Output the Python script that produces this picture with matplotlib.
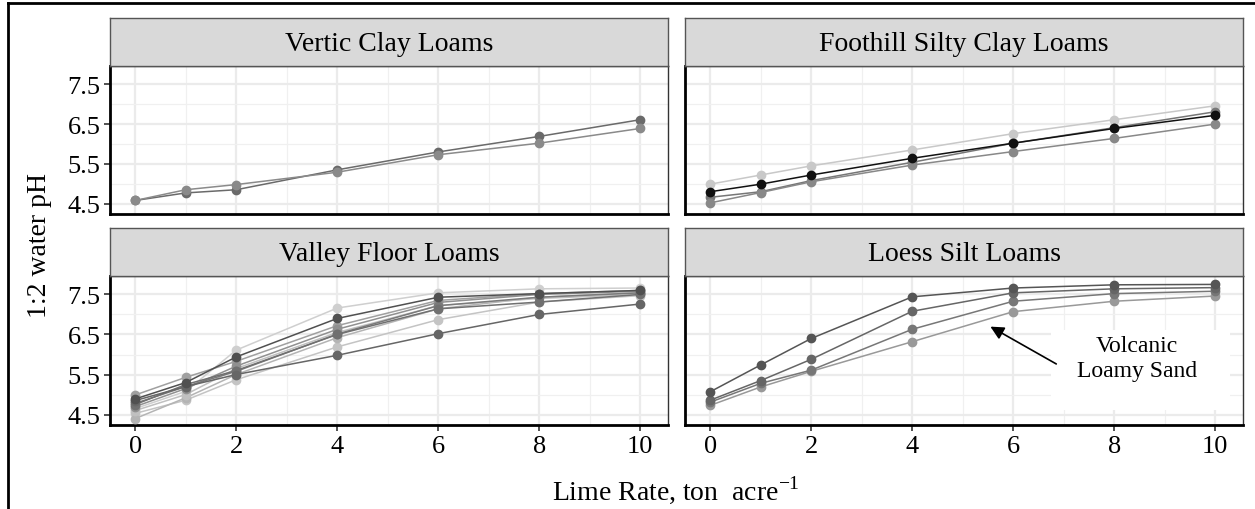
import matplotlib
matplotlib.use("Agg")
import matplotlib.pyplot as plt
from matplotlib.patches import Rectangle
from matplotlib.lines import Line2D

plt.rcParams['font.family'] = ['Liberation Serif', 'DejaVu Serif']
plt.rcParams['mathtext.fontset'] = 'custom'
plt.rcParams['mathtext.rm'] = 'Liberation Serif'

rates = [0, 1, 2, 4, 6, 8, 10]
x_ticks = [0, 2, 4, 6, 8, 10]
y_ticks = [4.5, 5.5, 6.5, 7.5]
panel_titles = ["Vertic Clay Loams", "Foothill Silty Clay Loams",
                "Valley Floor Loams", "Loess Silt Loams"]

vertic_ph = [
    [4.58, 4.77, 4.85, 5.35, 5.80, 6.19, 6.61],
    [4.58, 4.85, 4.98, 5.29, 5.73, 6.02, 6.39],
]
vertic_col = ["#6a6a6a", "#8a8a8a"]

foothill_ph = [
    [4.99, 5.22, 5.45, 5.85, 6.26, 6.61, 6.96],
    [4.66, 4.80, 5.08, 5.54, 6.02, 6.41, 6.81],
    [4.52, 4.78, 5.05, 5.47, 5.81, 6.14, 6.50],
    [4.80, 4.99, 5.22, 5.64, 6.02, 6.39, 6.72],
]
foothill_col = ["#c8c8c8", "#777777", "#888888", "#111111"]

valley_ph = [
    [4.65, 5.08, 6.11, 7.16, 7.54, 7.64, 7.66],
    [4.53, 4.86, 5.37, 6.19, 6.87, 7.31, 7.47],
    [4.40, 4.92, 5.50, 6.42, 7.14, 7.43, 7.54],
    [4.60, 5.00, 5.65, 6.55, 7.22, 7.40, 7.50],
    [4.99, 5.43, 5.83, 6.72, 7.35, 7.52, 7.60],
    [4.70, 5.15, 5.71, 6.63, 7.30, 7.50, 7.58],
    [4.78, 5.20, 5.58, 6.51, 7.22, 7.43, 7.54],
    [4.75, 5.25, 5.60, 6.50, 7.14, 7.31, 7.50],
    [4.85, 5.20, 5.50, 5.98, 6.52, 7.00, 7.26],
    [4.89, 5.30, 5.94, 6.90, 7.43, 7.52, 7.60],
]
valley_col = ["#cfcfcf", "#c4c4c4", "#b4b4b4", "#c0c0c0", "#a0a0a0",
              "#909090", "#7a7a7a", "#707070", "#666666", "#505050"]

loess_ph = [
    [4.73, 5.19, 5.58, 6.32, 7.07, 7.33, 7.46],
    [4.81, 5.28, 5.61, 6.63, 7.33, 7.52, 7.58],
    [4.86, 5.35, 5.88, 7.08, 7.54, 7.64, 7.67],
    [5.07, 5.74, 6.40, 7.44, 7.66, 7.74, 7.75],
]
loess_col = ["#999999", "#777777", "#666666", "#555555"]

panel_data = [(vertic_ph, vertic_col), (foothill_ph, foothill_col),
              (valley_ph, valley_col), (loess_ph, loess_col)]

W, H = 1255, 510
fig = plt.figure(figsize=(W / 100, H / 100), dpi=100)

def fx(px):
    return px / W

def fy(py):
    return 1 - py / H

cols = [(110, 668), (685, 1243)]
rows = [((19, 67), (67, 215)), ((229, 277), (277, 426))]

FS = 19
for i, (title, (series, colors)) in enumerate(zip(panel_titles, panel_data)):
    r, c = divmod(i, 2)
    x0, x1 = cols[c]
    (s0, s1), (a0, a1) = rows[r]
    ax = fig.add_axes([fx(x0), fy(a1), fx(x1) - fx(x0), fy(a0) - fy(a1)])
    ax.set_xlim(-0.5, 10.55)
    ax.set_ylim(4.24, 7.96)
    ax.set_xticks(x_ticks)
    ax.set_yticks(y_ticks)
    ax.set_xticks([1, 3, 5, 7, 9], minor=True)
    ax.set_yticks([5.0, 6.0, 7.0], minor=True)
    ax.grid(which='major', color='#ebebeb', lw=1.6, zorder=0)
    ax.grid(which='minor', color='#f0f0f0', lw=0.9, zorder=0)
    ax.set_axisbelow(True)
    ax.tick_params(which='minor', length=0)
    ax.tick_params(which='major', length=4, width=1.2, color='#333333',
                   labelsize=FS, pad=3)
    for s in ax.spines.values():
        s.set_color('#333333')
        s.set_linewidth(1.0)
    ax.spines['left'].set_color('black')
    ax.spines['left'].set_linewidth(2)
    ax.spines['bottom'].set_color('black')
    ax.spines['bottom'].set_linewidth(2)
    if r == 0:
        ax.tick_params(axis='x', labelbottom=False, length=0)
    if c == 1:
        ax.tick_params(axis='y', labelleft=False, length=0)
    for ys, col in zip(series, colors):
        ax.plot(rates, ys, color=col, lw=1.1, marker='o', ms=6,
                mec=col, mfc=col, zorder=3)
    # strip
    sax = fig.add_axes([fx(x0), fy(s1), fx(x1) - fx(x0), fy(s0) - fy(s1)])
    sax.set_facecolor('#d9d9d9')
    sax.set_xticks([])
    sax.set_yticks([])
    for s in sax.spines.values():
        s.set_color('#555555')
        s.set_linewidth(1.0)
    sax.text(0.5, 0.47, title, ha='center', va='center', fontsize=20,
             transform=sax.transAxes)
    if i == 3:
        ax.add_patch(Rectangle((6.75, 4.62), 3.55, 1.98, facecolor='white',
                               edgecolor='none', zorder=1))
        ax.text(8.45, 5.92, "Volcanic\nLoamy Sand", ha='center', va='center',
                fontsize=17, linespacing=1.25, zorder=4)
        ax.annotate("", xy=(5.5, 6.73), xytext=(6.9, 5.73),
                    arrowprops=dict(arrowstyle='-|>,head_length=0.8,head_width=0.4',
                                    color='black', lw=1.2), zorder=4)

fig.text(fx(40), fy(246), "1:2 water pH", rotation=90, ha='center',
         va='center', fontsize=20)
fig.text(fx(676), fy(490), r"Lime Rate, ton  acre$^{-1}$", ha='center',
         va='center', fontsize=20)

# outer frame lines (left and top)
fig.add_artist(Line2D([fx(8), fx(8)], [0, fy(4)], color='black', lw=2,
                      transform=fig.transFigure))
fig.add_artist(Line2D([fx(8), 1], [fy(4), fy(4)], color='black', lw=2,
                      transform=fig.transFigure))

fig.savefig("out.png", dpi=100)
